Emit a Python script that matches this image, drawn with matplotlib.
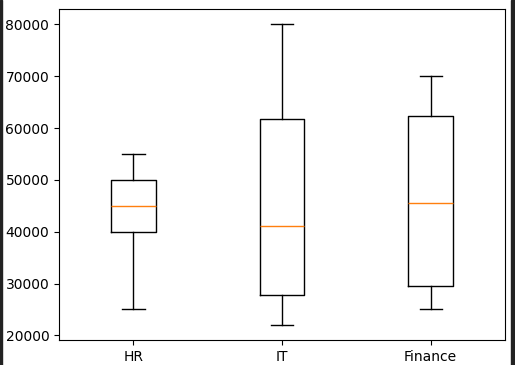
import matplotlib.pyplot as plt
from matplotlib.patches import Rectangle

departments = ['HR', 'IT', 'Finance']
whis_low = [25000, 22000, 25000]
q1 = [40000, 27800, 29500]
medians = [45000, 41000, 45500]
q3 = [50000, 61700, 62400]
whis_high = [55000, 80000, 70000]

stats = []
for i, name in enumerate(departments):
    stats.append({'label': name, 'whislo': whis_low[i], 'q1': q1[i],
                  'med': medians[i], 'q3': q3[i], 'whishi': whis_high[i],
                  'fliers': []})

fig = plt.figure(figsize=(5.15, 3.65), dpi=100)
ax = fig.add_axes([0.1146, 0.0685, 0.866, 0.906])
ax.bxp(stats)

# dark frame strips on the left and right of the screenshot
fig.patches.append(Rectangle((0, 0), 2/515, 1, transform=fig.transFigure,
                             color='#222222', zorder=10))
fig.patches.append(Rectangle((1 - 4/515, 0), 4/515, 1, transform=fig.transFigure,
                             color='#222222', zorder=10))

fig.savefig('out.png', dpi=100)
